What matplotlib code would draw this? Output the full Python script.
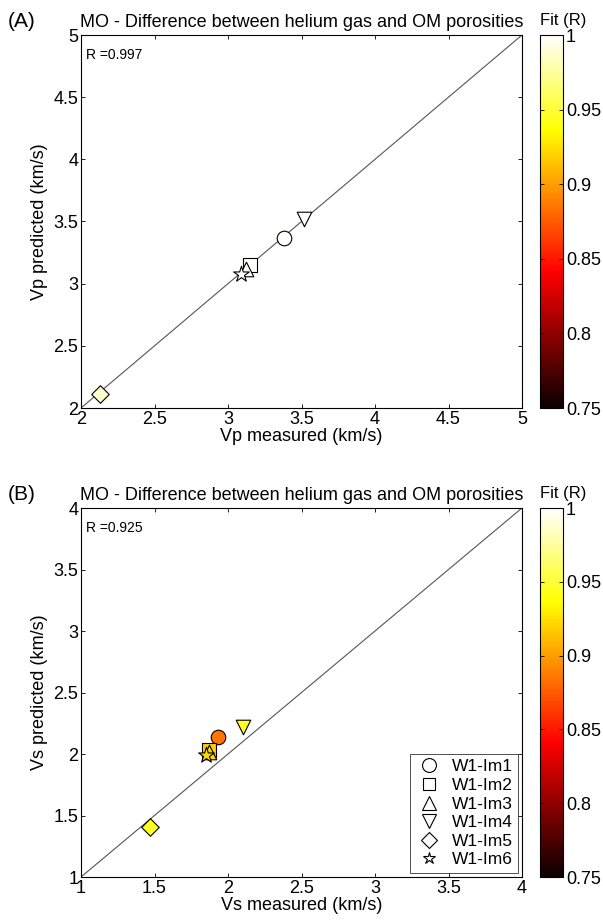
import numpy as np
import matplotlib
matplotlib.use("Agg")
import matplotlib.pyplot as plt
from matplotlib.lines import Line2D
from matplotlib.ticker import FormatStrFormatter

plt.rcParams['font.family'] = ['Liberation Sans', 'DejaVu Sans']

# sample names and markers
samples = ["W1-Im1", "W1-Im2", "W1-Im3", "W1-Im4", "W1-Im5", "W1-Im6"]
markers = ["o", "s", "^", "v", "D", "*"]

# panel A: Vp
vp_meas = [3.38, 3.15, 3.12, 3.52, 2.13, 3.09]
vp_pred = [3.37, 3.15, 3.12, 3.52, 2.11, 3.08]
vp_fit = [0.999, 0.999, 0.999, 0.998, 0.988, 1.0]
vp_r = 0.997

# panel B: Vs
vs_meas = [1.93, 1.87, 1.87, 2.10, 1.47, 1.85]
vs_pred = [2.14, 2.03, 2.02, 2.22, 1.41, 1.99]
vs_fit = [0.884, 0.918, 0.922, 0.945, 0.945, 0.922]
vs_r = 0.925

title = "MO - Difference between helium gas and OM porosities"

W, H = 603, 922
fig = plt.figure(figsize=(W / 100, H / 100), dpi=100)


def px(l, t, r, b):
    return [l / W, 1 - b / H, (r - l) / W, (b - t) / H]


def panel(ax_box, cb_box, meas, pred, fit, lo, hi, r, tag, qty, legend):
    ax = fig.add_axes(px(*ax_box))
    ax.plot([lo, hi], [lo, hi], color="#555555", lw=0.8, zorder=1)
    sizes = {"o": 110, "s": 95, "^": 110, "v": 110, "D": 80, "*": 140}
    for m, x, y, f in zip(markers, meas, pred, fit):
        ax.scatter([x], [y], c=[f], cmap="hot", vmin=0.75, vmax=1.0,
                   marker=m, s=sizes[m], edgecolors="black", linewidths=0.8,
                   zorder=3)
    ax.set_xlim(lo, hi)
    ax.set_ylim(lo, hi)
    ticks = np.arange(lo, hi + 0.01, 0.5)
    ax.set_xticks(ticks)
    ax.set_yticks(ticks)
    fmt = FormatStrFormatter("%g")
    ax.xaxis.set_major_formatter(fmt)
    ax.yaxis.set_major_formatter(fmt)
    ax.tick_params(direction="in", top=True, right=True, length=3,
                   width=0.6, labelsize=13, pad=2)
    for s in ax.spines.values():
        s.set_linewidth(0.8)
    ax.set_xlabel(qty + " measured (km/s)", fontsize=13, labelpad=0)
    ax.set_ylabel(qty + " predicted (km/s)", fontsize=13, labelpad=4)
    ax.set_title(title, fontsize=13, pad=6)
    ax.text(0.012, 0.965, "R =%.3f" % r, transform=ax.transAxes,
            fontsize=10, va="top", ha="left")
    ax.text(-0.165, 1.01, tag, transform=ax.transAxes, fontsize=15,
            va="bottom", ha="left")

    cax = fig.add_axes(px(*cb_box))
    sm = plt.cm.ScalarMappable(cmap="hot",
                               norm=plt.Normalize(vmin=0.75, vmax=1.0))
    cb = fig.colorbar(sm, cax=cax, ticks=[0.75, 0.8, 0.85, 0.9, 0.95, 1.0])
    cb.ax.yaxis.set_major_formatter(FormatStrFormatter("%g"))
    cb.ax.tick_params(direction="in", length=3, width=0.6, labelsize=13,
                      pad=2, left=True)
    cb.outline.set_linewidth(0.8)
    cax.set_title("Fit (R)", fontsize=12, loc="left", pad=7)

    if legend:
        handles = [Line2D([], [], marker=m, ls="none", mfc="white",
                          mec="black", mew=0.8,
                          ms={"o": 10, "s": 9, "^": 10, "v": 10,
                              "D": 8, "*": 9}[m])
                   for m in markers]
        leg = ax.legend(handles, samples, loc="lower right", fontsize=12.5,
                        frameon=True, fancybox=False, edgecolor="black",
                        handletextpad=0.5, borderpad=0.3, labelspacing=0.2,
                        handlelength=1.6, borderaxespad=0.25)
        leg.get_frame().set_linewidth(0.6)


panel((81, 35, 522, 408), (540, 35, 563, 408), vp_meas, vp_pred, vp_fit,
      2, 5, vp_r, "(A)", "Vp", False)
panel((81, 508, 522, 877), (540, 508, 563, 877), vs_meas, vs_pred, vs_fit,
      1, 4, vs_r, "(B)", "Vs", True)

fig.savefig("out.png", dpi=100)
